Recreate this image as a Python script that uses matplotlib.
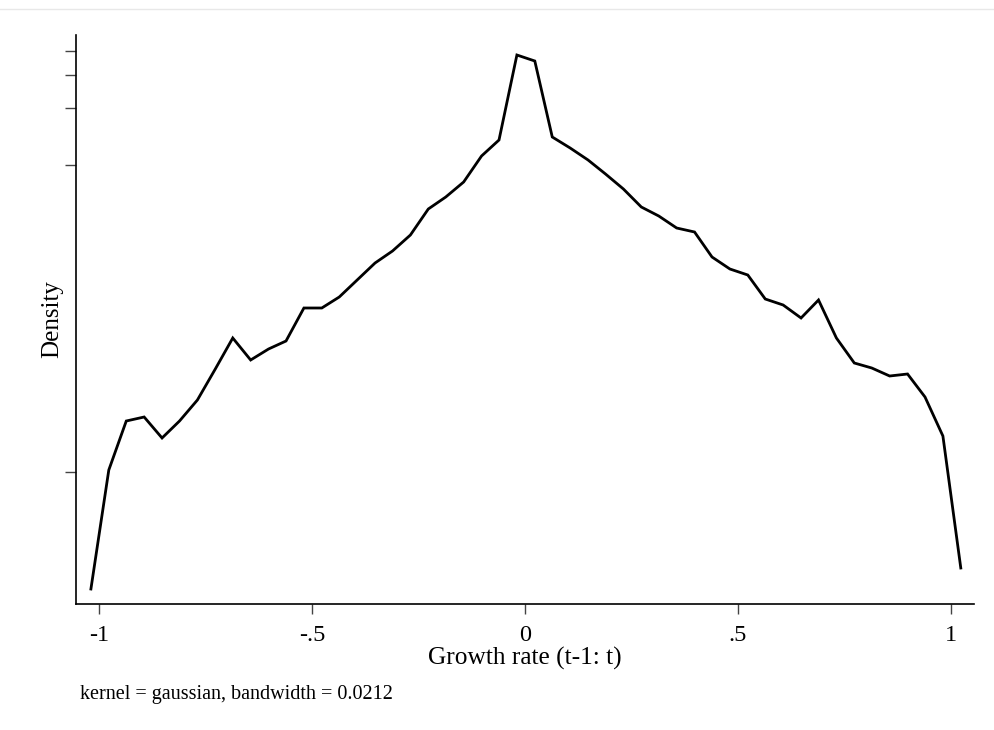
import matplotlib
matplotlib.use("Agg")
import matplotlib.pyplot as plt
from matplotlib.lines import Line2D

# kernel density of growth rate (50 grid points)
growth = [-1.019, -0.977, -0.936, -0.894, -0.852, -0.811, -0.769, -0.727,
          -0.686, -0.644, -0.602, -0.561, -0.519, -0.477, -0.436, -0.394,
          -0.352, -0.311, -0.269, -0.227, -0.186, -0.144, -0.102, -0.061,
          -0.019, 0.023, 0.064, 0.106, 0.148, 0.189, 0.231, 0.273,
          0.314, 0.356, 0.398, 0.439, 0.481, 0.523, 0.564, 0.606,
          0.648, 0.689, 0.731, 0.773, 0.814, 0.856, 0.898, 0.939,
          0.981, 1.023]
density = [0.030, 0.268, 0.366, 0.374, 0.332, 0.366, 0.408, 0.470,
           0.532, 0.488, 0.510, 0.526, 0.592, 0.592, 0.614, 0.648,
           0.682, 0.706, 0.738, 0.790, 0.814, 0.844, 0.896, 0.928,
           1.098, 1.086, 0.934, 0.912, 0.888, 0.860, 0.830, 0.794,
           0.776, 0.752, 0.744, 0.694, 0.670, 0.658, 0.610, 0.598,
           0.572, 0.608, 0.532, 0.482, 0.472, 0.456, 0.460, 0.414,
           0.336, 0.072]

ytick_vals = [0.264, 0.878, 0.992, 1.058, 1.106]
xtick_vals = [-1, -0.5, 0, 0.5, 1]
xtick_labels = ["-1", "-.5", "0", ".5", "1"]

plt.rcParams['font.family'] = ['Liberation Serif', 'DejaVu Serif']

W, H = 994, 730
fig = plt.figure(figsize=(W / 100, H / 100), dpi=100)
ax = fig.add_axes([76 / W, (H - 604) / H, (974 - 76) / W, (604 - 35) / H])

ax.plot(growth, density, color='black', linewidth=2.0, solid_joinstyle='miter')

ax.set_xlim(-1.054, 1.054)
ax.set_ylim(0, 1.138)

for side in ['top', 'right']:
    ax.spines[side].set_visible(False)
for side in ['left', 'bottom']:
    ax.spines[side].set_linewidth(1.2)
    ax.spines[side].set_color('black')

ax.set_xticks(xtick_vals)
ax.set_xticklabels(xtick_labels, fontsize=17.5)
ax.set_yticks(ytick_vals)
ax.set_yticklabels([])
ax.tick_params(axis='x', length=7, width=1.0, color='#444444', pad=8)
ax.tick_params(axis='y', length=8, width=1.0, color='#444444')

ax.set_xlabel("Growth rate (t-1: t)", fontsize=18.3, labelpad=1)
ax.set_ylabel("Density", fontsize=18, labelpad=-2)

fig.text(80 / W, 1 - 694 / H, "kernel = gaussian, bandwidth = 0.0212",
         fontsize=14.5, ha='left', va='center')

# faint frame line at the top of the graph region
fig.add_artist(Line2D([0, 1], [1 - 9 / H, 1 - 9 / H], color='#e8e8e8',
                      linewidth=1.0, transform=fig.transFigure))

fig.savefig("out.png", dpi=100, facecolor='white')
